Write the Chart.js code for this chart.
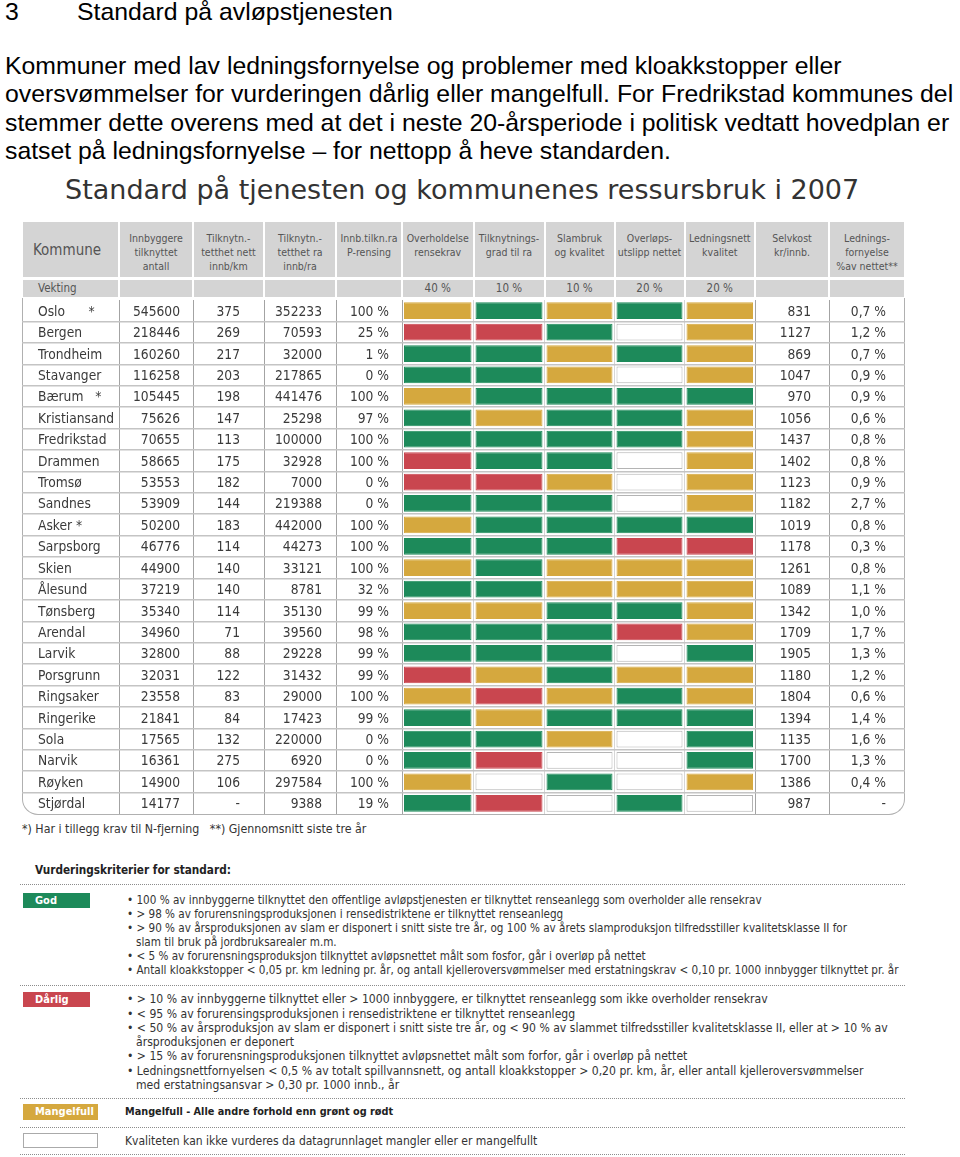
<!DOCTYPE html>
<html lang="no">
<head>
<meta charset="utf-8">
<title>Standard på avløpstjenesten</title>
<script src="https://cdn.jsdelivr.net/npm/chart.js@4.4.1/dist/chart.umd.min.js"></script>
<style>
  html, body { margin: 0; padding: 0; background: #fff; }
  body { position: relative; width: 960px; height: 1157px; overflow: hidden; }
  .abs { position: absolute; white-space: pre; }
  .arial { font-family: "Liberation Sans", Arial, sans-serif; font-size: 24.8px; line-height: 28px; color: #000; }
  .cond { font-family: "DejaVu Sans Condensed", "DejaVu Sans", sans-serif; }
  .title { font-family: "DejaVu Sans", Verdana, sans-serif; font-size: 27px; line-height: 34px; color: #333; }
  .head { background: #d4d4d4; color: #555; font-size: 10.5px; line-height: 14px; text-align: center; }
  .cell { font-size: 13.7px; line-height: 18px; color: #3a3a3a; }
  .small { font-size: 11.5px; line-height: 14px; color: #333; }
  .god { font-size: 11.6px; }
  .darlig { font-size: 12.1px; }
  .dots { position: absolute; left: 20px; width: 885px; height: 0; border-top: 1px dotted #8c8c8c; }
  .badge { position: absolute; left: 23px; height: 15px; color: #fff; font-weight: bold; font-size: 11px; line-height: 15px; padding-left: 12px; box-sizing: border-box; }
  #frame { position: absolute; left: 22px; top: 298px; width: 881px; height: 516px; border: 1px solid #b0b0b0; border-top: none; border-radius: 0 0 16px 16px; }
  #grid { position: absolute; left: 22px; top: 300px; }
</style>
</head>
<body>
<div class="abs arial" style="left:5px;top:-2px">3</div>
<div class="abs arial" style="left:77px;top:-2px">Standard på avløpstjenesten</div>
<div class="abs arial" style="left:5px;top:52px">Kommuner med lav ledningsfornyelse og problemer med kloakkstopper eller</div>
<div class="abs arial" style="left:5px;top:80px">oversvømmelser for vurderingen dårlig eller mangelfull. For Fredrikstad kommunes del</div>
<div class="abs arial" style="left:5px;top:109px">stemmer dette overens med at det i neste 20-årsperiode i politisk vedtatt hovedplan er</div>
<div class="abs arial" style="left:5px;top:137px">satset på ledningsfornyelse – for nettopp å heve standarden.</div>

<div class="abs title" style="left:65px;top:173px">Standard på tjenesten og kommunenes ressursbruk i 2007</div>

<div id="frame"></div>
<canvas id="grid" width="883" height="514"></canvas>

<div class="abs cond small" style="left:22px;top:822px;font-size:12.3px">*) Har i tillegg krav til N-fjerning   **) Gjennomsnitt siste tre år</div>

<div class="abs cond small" style="left:35px;top:863px;font-weight:bold;font-size:11.7px;color:#222">Vurderingskriterier for standard:</div>
<div class="dots" style="top:884px"></div>
<div class="badge cond" style="top:893px;width:67px;background:#1d8a5a">God</div>
<div class="abs cond small god" style="left:127px;top:893px">• 100 % av innbyggerne tilknyttet den offentlige avløpstjenesten er tilknyttet renseanlegg som overholder alle rensekrav</div>
<div class="abs cond small god" style="left:127px;top:907px">• &gt; 98 % av forurensningsproduksjonen i rensedistriktene er tilknyttet renseanlegg</div>
<div class="abs cond small god" style="left:127px;top:921px">• &gt; 90 % av årsproduksjonen av slam er disponert i snitt siste tre år, og 100 % av årets slamproduksjon tilfredsstiller kvalitetsklasse II for</div>
<div class="abs cond small god" style="left:136px;top:935px">slam til bruk på jordbruksarealer m.m.</div>
<div class="abs cond small god" style="left:127px;top:949px">• &lt; 5 % av forurensningsproduksjon tilknyttet avløpsnettet målt som fosfor, går i overløp på nettet</div>
<div class="abs cond small god" style="left:127px;top:963px">• Antall kloakkstopper &lt; 0,05 pr. km ledning pr. år, og antall kjelleroversvømmelser med erstatningskrav &lt; 0,10 pr. 1000 innbygger tilknyttet pr. år</div>
<div class="dots" style="top:985px"></div>
<div class="badge cond" style="top:992px;width:67px;background:#c9464f">Dårlig</div>
<div class="abs cond small darlig" style="left:127px;top:992px">• &gt; 10 % av innbyggerne tilknyttet eller &gt; 1000 innbyggere, er tilknyttet renseanlegg som ikke overholder rensekrav</div>
<div class="abs cond small darlig" style="left:127px;top:1007px">• &lt; 95 % av forurensingsproduksjonen i rensedistriktene er tilknyttet renseanlegg</div>
<div class="abs cond small darlig" style="left:127px;top:1021px">• &lt; 50 % av årsproduksjon av slam er disponert i snitt siste tre år, og &lt; 90 % av slammet tilfredsstiller kvalitetsklasse II, eller at &gt; 10 % av</div>
<div class="abs cond small darlig" style="left:136px;top:1035px">årsproduksjonen er deponert</div>
<div class="abs cond small darlig" style="left:127px;top:1049px">• &gt; 15 % av forurensningsproduksjonen tilknyttet avløpsnettet målt som forfor, går i overløp på nettet</div>
<div class="abs cond small darlig" style="left:127px;top:1064px">• Ledningsnettfornyelsen &lt; 0,5 % av totalt spillvannsnett, og antall kloakkstopper &gt; 0,20 pr. km, år, eller antall kjelleroversvømmelser</div>
<div class="abs cond small darlig" style="left:136px;top:1078px">med erstatningsansvar &gt; 0,30 pr. 1000 innb., år</div>
<div class="dots" style="top:1098px"></div>
<div class="badge cond" style="top:1104px;width:75px;height:16px;line-height:16px;background:#d5a83e">Mangelfull</div>
<div class="abs cond small" style="left:125px;top:1105px;font-weight:bold;font-size:10.8px;color:#222">Mangelfull - Alle andre forhold enn grønt og rødt</div>
<div class="dots" style="top:1127px"></div>
<div class="badge cond" style="top:1133px;width:75px;background:#fff;border:1px solid #aaa"></div>
<div class="abs cond small" style="left:125px;top:1134px;font-size:12px">Kvaliteten kan ikke vurderes da datagrunnlaget mangler eller er mangelfullt</div>
<div class="dots" style="top:1154px"></div>

<script>
// rader i tabellen
const kommuner = ['Oslo      *', 'Bergen', 'Trondheim', 'Stavanger', 'Bærum   *', 'Kristiansand', 'Fredrikstad', 'Drammen',
  'Tromsø', 'Sandnes', 'Asker *', 'Sarpsborg', 'Skien', 'Ålesund', 'Tønsberg', 'Arendal', 'Larvik', 'Porsgrunn',
  'Ringsaker', 'Ringerike', 'Sola', 'Narvik', 'Røyken', 'Stjørdal'];
const innbyggere = [545600, 218446, 160260, 116258, 105445, 75626, 70655, 58665, 53553, 53909, 50200, 46776,
  44900, 37219, 35340, 34960, 32800, 32031, 23558, 21841, 17565, 16361, 14900, 14177];
const tetthetNett = [375, 269, 217, 203, 198, 147, 113, 175, 182, 144, 183, 114, 140, 140, 114, 71, 88, 122,
  83, 84, 132, 275, 106, '-'];
const tetthetRa = [352233, 70593, 32000, 217865, 441476, 25298, 100000, 32928, 7000, 219388, 442000, 44273,
  33121, 8781, 35130, 39560, 29228, 31432, 29000, 17423, 220000, 6920, 297584, 9388];
const pRensing = [100, 25, 1, 0, 100, 97, 100, 100, 0, 0, 100, 100, 100, 32, 99, 98, 99, 99, 100, 99, 0, 0, 100, 19];
const selvkost = [831, 1127, 869, 1047, 970, 1056, 1437, 1402, 1123, 1182, 1019, 1178, 1261, 1089, 1342, 1709,
  1905, 1180, 1804, 1394, 1135, 1700, 1386, 987];
const fornyelse = ['0,7', '1,2', '0,7', '0,9', '0,9', '0,6', '0,8', '0,8', '0,9', '2,7', '0,8', '0,3', '0,8', '1,1',
  '1,0', '1,7', '1,3', '1,2', '0,6', '1,4', '1,6', '1,3', '0,4', '-'];

// vurderinger: G = god, D = dårlig, M = mangelfull, I = kan ikke vurderes
const kriterier = ['Overholdelse rensekrav', 'Tilknytningsgrad til ra', 'Slambruk og kvalitet', 'Overløpsutslipp nettet', 'Ledningsnett kvalitet'];
const vekting = ['40 %', '10 %', '10 %', '20 %', '20 %'];
const overholdelse = ['M','D','G','G','M','G','G','D','D','G','M','G','M','G','M','G','G','D','M','G','G','G','M','G'];
const tilknytning  = ['G','D','G','G','G','M','G','G','D','G','G','G','G','G','M','G','G','M','D','M','G','D','I','D'];
const slambruk     = ['M','G','M','M','G','G','G','G','M','G','G','G','M','M','G','G','G','G','M','G','M','I','G','I'];
const overlop      = ['G','I','G','I','G','G','G','I','I','I','G','D','M','M','G','D','I','M','G','G','I','I','I','G'];
const ledningsnett = ['M','M','M','M','G','M','M','M','M','M','G','D','M','M','M','M','G','M','M','G','G','G','M','I'];
const vurderinger = [overholdelse, tilknytning, slambruk, overlop, ledningsnett];

const kolonner = ['Kommune', 'Innbyggere\ntilknyttet\nantall', 'Tilknytn.-\ntetthet nett\ninnb/km', 'Tilknytn.-\ntetthet ra\ninnb/ra',
  'Innb.tilkn.ra\nP-rensing', 'Overholdelse\nrensekrav', 'Tilknytnings-\ngrad til ra', 'Slambruk\nog kvalitet',
  'Overløps-\nutslipp nettet', 'Ledningsnett\nkvalitet', 'Selvkost\nkr/innb.', 'Lednings-\nfornyelse\n%av nettet**'];

const farge = { G: '#1d8a5a', D: '#c9464f', M: '#d5a83e', I: '#ffffff' };

// layout
const tableLeft = 22;
const colEdges = [22, 119, 193, 264, 336, 402, 473.5, 544.5, 614.5, 684.5, 755, 829, 905];
const tableWidth = colEdges[colEdges.length - 1] - tableLeft;
const gridTop = 300;

// header
kolonner.forEach((txt, c) => {
  const left = colEdges[c] + 1, width = colEdges[c + 1] - colEdges[c] - 2;
  const h = document.createElement('div');
  h.className = 'abs cond head';
  h.style.cssText = `left:${left}px;top:222px;width:${width}px;height:55px;box-sizing:border-box;padding-top:9px;`;
  if (c === 0) {
    h.style.cssText += 'text-align:left;padding-left:10px;padding-top:20px;font-size:15px;line-height:16px;';
  }
  h.textContent = txt;
  document.body.appendChild(h);

  const v = document.createElement('div');
  v.className = 'abs cond head';
  v.style.cssText = `left:${left}px;top:280px;width:${width}px;height:17px;line-height:17px;font-size:11.5px;`;
  if (c === 0) { v.style.cssText += 'text-align:left;padding-left:15px;box-sizing:border-box;'; v.textContent = 'Vekting'; }
  if (c >= 5 && c <= 9) v.textContent = vekting[c - 5];
  document.body.appendChild(v);
});

const innerEdges = colEdges.slice(1, -1).map(e => e - tableLeft);

const chart = new Chart(document.getElementById('grid'), {
  type: 'bar',
  data: {
    labels: kommuner,
    datasets: kriterier.map((navn, k) => ({
      label: navn,
      data: vurderinger[k].map(() => [colEdges[5 + k] - tableLeft + 2, colEdges[6 + k] - tableLeft - 2]),
      backgroundColor: vurderinger[k].map(v => farge[v]),
      borderColor: vurderinger[k].map(v => v === 'I' ? '#b4b4b4' : farge[v]),
      borderWidth: 1,
      borderSkipped: false,
      grouped: false,
      categoryPercentage: 1,
      barPercentage: 0.78
    }))
  },
  options: {
    indexAxis: 'y',
    responsive: false,
    animation: false,
    events: [],
    layout: { padding: 0 },
    plugins: { legend: { display: false }, tooltip: { enabled: false } },
    scales: {
      x: {
        type: 'linear', min: 0, max: tableWidth,
        ticks: { display: false },
        border: { display: false },
        afterBuildTicks: s => { s.ticks = innerEdges.map(v => ({ value: v })); },
        grid: {
          drawTicks: false,
          lineWidth: 1,
          color: ctx => (ctx.tick && ctx.tick.value > colEdges[5] - tableLeft && ctx.tick.value < colEdges[10] - tableLeft) ? '#d6d6d6' : '#a3a3a3'
        }
      },
      y: {
        type: 'category',
        offset: true,
        ticks: { display: false },
        border: { display: false },
        grid: {
          offset: true,
          drawTicks: false,
          lineWidth: 1.4,
          color: ctx => (ctx.index > 0 && ctx.index < kommuner.length) ? '#c4c4c4' : 'rgba(0,0,0,0)'
        }
      }
    }
  }
});

// tekstkolonner, plassert etter y-aksen i diagrammet
const yScale = chart.scales.y;
const tekstKolonner = [
  { values: kommuner, x: 38, align: 'left' },
  { values: innbyggere, x: 180, align: 'right' },
  { values: tetthetNett, x: 240, align: 'right' },
  { values: tetthetRa, x: 322, align: 'right' },
  { values: pRensing.map(p => p + ' %'), x: 389, align: 'right' },
  { values: selvkost, x: 811, align: 'right' },
  { values: fornyelse.map(f => f === '-' ? '-' : f + ' %'), x: 886, align: 'right' }
];
kommuner.forEach((_, i) => {
  const y = gridTop + yScale.getPixelForValue(i);
  tekstKolonner.forEach(col => {
    const s = document.createElement('div');
    s.className = 'abs cond cell';
    s.textContent = String(col.values[i]);
    if (col.align === 'left') s.style.cssText = `left:${col.x}px;top:${y - 9}px;`;
    else s.style.cssText = `right:${960 - col.x}px;top:${y - 9}px;text-align:right;`;
    document.body.appendChild(s);
  });
});
</script>
</body>
</html>
